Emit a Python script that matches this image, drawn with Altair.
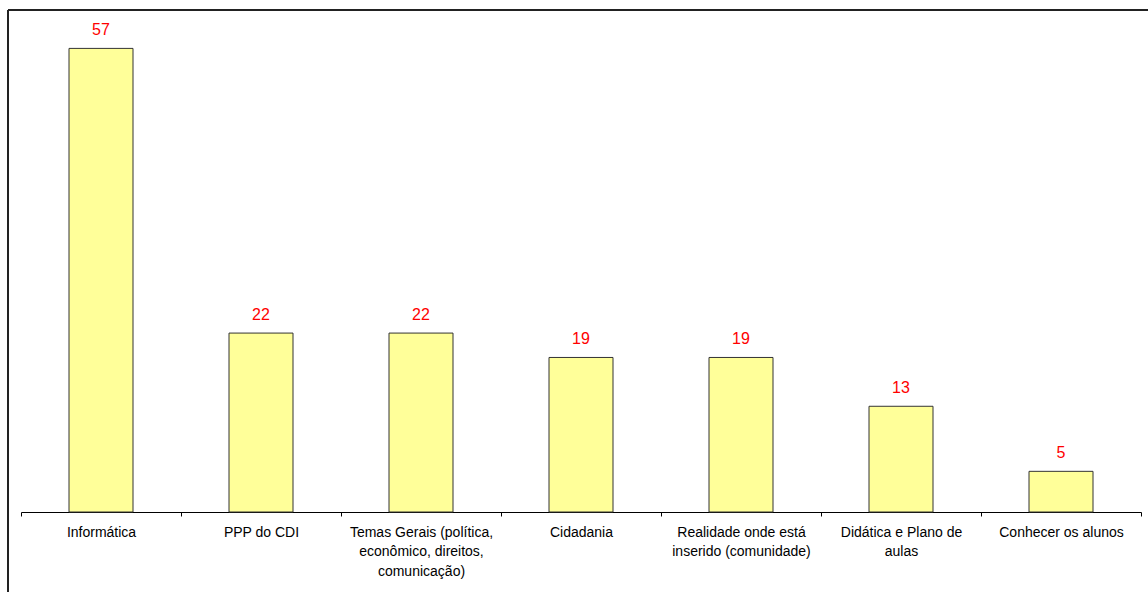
import altair as alt
import pandas as pd

categories = [
    "Informática",
    "PPP do CDI",
    "Temas Gerais (política,\neconômico, direitos,\ncomunicação)",
    "Cidadania",
    "Realidade onde está\ninserido (comunidade)",
    "Didática e Plano de\naulas",
    "Conhecer os alunos",
]
values = [57, 22, 22, 19, 19, 13, 5]

df = pd.DataFrame({"cat": categories, "val": values})

W, H = 1120, 488

x = alt.X("cat:N", sort=categories, title=None,
          scale=alt.Scale(paddingInner=0, paddingOuter=0),
          axis=alt.Axis(labelAngle=0, labelExpr="split(datum.label, '\\n')",
                        labelFont="Liberation Sans", labelFontSize=14, labelColor="#000",
                        labelLineHeight=19.5, labelPadding=9, labelBaseline="top",
                        domainColor="#000", domainWidth=1, tickColor="#000", tickSize=4,
                        tickBand="extent", labelLimit=300))
y = alt.Y("val:Q", title=None, scale=alt.Scale(domain=[0, 60], nice=False), axis=None)

base = alt.Chart(df)
bars = base.mark_bar(size=64, fill="#FFFF99", stroke="#333333", strokeWidth=1).encode(x=x, y=y)
labels = base.mark_text(color="#FF0000", font="Liberation Sans", fontSize=16,
                        baseline="bottom", dy=-10).encode(x=x, y=y, text="val:Q")

frame_left = alt.Chart(pd.DataFrame({"a": [0]})).mark_rule(color="#222", strokeWidth=2).encode(
    x=alt.value(-13), y=alt.value(-14), y2=alt.value(600))
frame_top = alt.Chart(pd.DataFrame({"a": [0]})).mark_rule(color="#222", strokeWidth=2).encode(
    x=alt.value(-13), x2=alt.value(1150), y=alt.value(-14))

chart = alt.layer(bars, labels, frame_left, frame_top).properties(
    width=W, height=H,
    autosize=alt.AutoSizeParams(type="none"),
    padding={"left": 21, "top": 24, "right": 7, "bottom": 80},
    background="white",
).configure_view(stroke=None)

chart.save("out.html", embed_options={"renderer": "svg", "actions": False})
